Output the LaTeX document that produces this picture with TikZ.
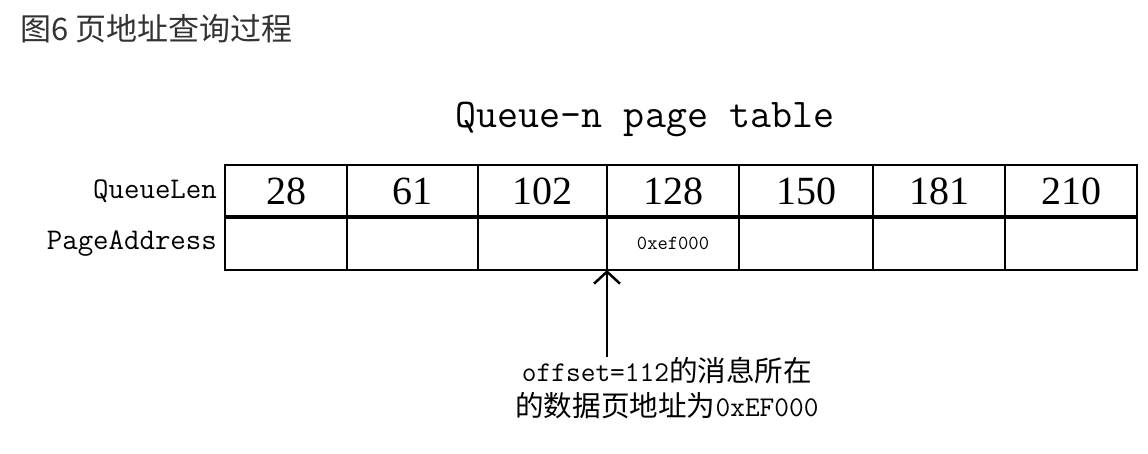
\documentclass[tikz,border=0pt]{standalone}
\usepackage{fontspec}
\setmainfont{Liberation Serif}
\newfontfamily\cjk{Noto Sans CJK SC}
\usepackage{tikz}
\usetikzlibrary{positioning,arrows.meta}

\begin{document}
\begin{tikzpicture}[x=1pt,y=-1pt,
  every node/.style={inner sep=0pt},
  cell/.style={draw,line width=2.5pt,outer sep=0pt,minimum height=52pt},
  big/.style={font=\fontsize{40}{48}\selectfont},
  rowlabel/.style={font=\ttfamily\fontsize{30}{36}\selectfont}]
  \useasboundingbox (0,0) rectangle (1148,454);
  \node[anchor=west,text=black!80,font=\cjk\fontsize{31}{37}\selectfont] (fig) at (20,29) {图6 页地址查询过程};
  \node[font=\ttfamily\fontsize{40.8}{48}\selectfont] (title) at (645,119) {Queue-n page table};
  \foreach \xl/\xr/\len [count=\i] in {225/347/28,347/478/61,478/607/102,607/739/128,739/873/150,873/1005/181,1005/1137/210}
  {
    \node[cell,big,minimum width={\xr pt-\xl pt}] (q\i) at ({(\xl+\xr)/2},191) {\len};
    \node[cell,minimum width={\xr pt-\xl pt},minimum height=53pt] (p\i) at ({(\xl+\xr)/2},243.5) {};
  }
  \draw[line width=4pt] (q1.south west) -- (q7.south east);
  \node[rowlabel,left=8pt of q1] (lenlabel) {QueueLen};
  \node[rowlabel,left=8pt of p1] (addrlabel) {PageAddress};
  \node[font=\ttfamily\fontsize{20}{24}\selectfont] (addr) at (p4) {0xef000};
  \node[anchor=north,align=center,font=\fontsize{28.6}{35}\selectfont] (msg) at (667,357)
    {{\ttfamily offset=112}{\cjk 的消息所在}\\{\cjk 的数据页地址为}{\ttfamily 0xEF000}};
  \draw[line width=2.5pt,-{Straight Barb[length=12pt,width=26pt]}] (msg.north -| p4.south west) -- (p4.south west);
\end{tikzpicture}
\end{document}
